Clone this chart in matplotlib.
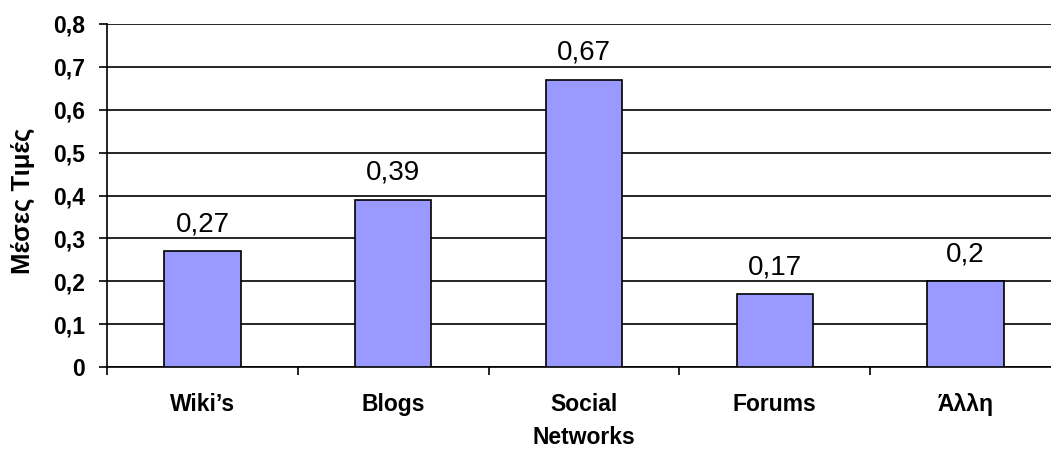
import matplotlib.pyplot as plt
from matplotlib.ticker import FixedLocator

# Data
categories = ["Wiki\u2019s", "Blogs", "Social\nNetworks", "Forums", "\u0386\u03bb\u03bb\u03b7"]
values = [0.27, 0.39, 0.67, 0.17, 0.2]
value_labels = ["0,27", "0,39", "0,67", "0,17", "0,2"]
y_ticks = [0, 0.1, 0.2, 0.3, 0.4, 0.5, 0.6, 0.7, 0.8]
y_tick_labels = ["0", "0,1", "0,2", "0,3", "0,4", "0,5", "0,6", "0,7", "0,8"]

plt.rcParams['font.family'] = ['Liberation Sans', 'DejaVu Sans']

fig = plt.figure(figsize=(10.51, 4.5), dpi=100)
# plot area runs slightly past the right edge, as in the original
ax = fig.add_axes([0.1018, 0.1844, 0.9077, 0.7623])

x = list(range(len(categories)))
bars = ax.bar(x, values, width=0.4, color='#9999FF', edgecolor='black',
              linewidth=1.2, zorder=3)

for xi, v, lab in zip(x, values, value_labels):
    ax.annotate(lab, (xi, v), xytext=(0, 10), textcoords='offset points',
                ha='center', va='bottom', fontsize=20)

ax.set_xlim(-0.5, len(categories) - 0.5)
ax.set_ylim(0, 0.8)

ax.set_yticks(y_ticks)
ax.set_yticklabels(y_tick_labels, fontsize=16.5, fontweight='bold')
ax.yaxis.grid(True, color='black', linewidth=1.2, zorder=0)
ax.tick_params(axis='y', direction='out', length=6, width=1.2, pad=10)

ax.set_xticks(x)
ax.set_xticklabels(categories, fontsize=16.5, fontweight='bold', va='top',
                   linespacing=1.55)
ax.tick_params(axis='x', which='major', length=0, pad=19)
ax.xaxis.set_minor_locator(FixedLocator([i - 0.5 for i in range(len(categories) + 1)]))
ax.tick_params(axis='x', which='minor', direction='out', length=6, width=1.2)

for s in ['top', 'right']:
    ax.spines[s].set_visible(False)
for s in ['left', 'bottom']:
    ax.spines[s].set_linewidth(1.2)
ax.set_axisbelow(True)

fig.text(0.022, 0.553, "\u039c\u03ad\u03c3\u03b5\u03c2 \u03a4\u03b9\u03bc\u03ad\u03c2",
         rotation=90, ha='center', va='center', fontsize=18.5, fontweight='bold')

fig.savefig('out.png', dpi=100)
